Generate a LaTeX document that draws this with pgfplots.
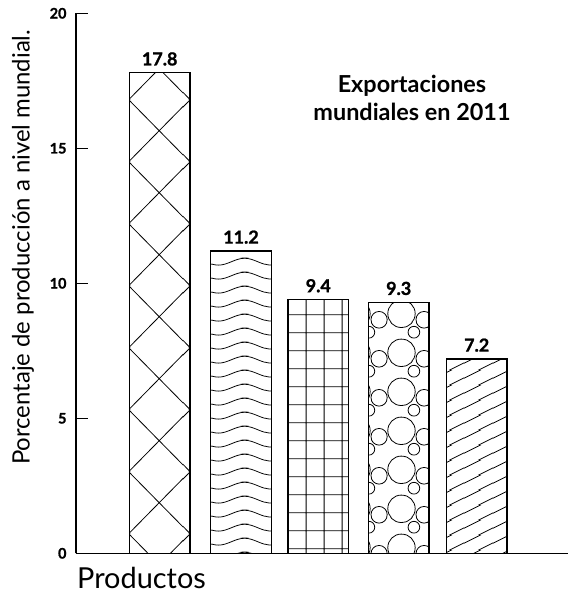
\documentclass[border=0pt]{standalone}
\usepackage{fontspec}
\setmainfont{Lato}
\newfontfamily\heavy{Lato}[BoldFeatures={FakeBold=1.2}]
\usepackage{pgfplots}
\pgfplotsset{compat=1.18}
\usetikzlibrary{patterns}

% diamonds (large crosshatch)
\pgfdeclarepatternformonly{diamonds}{\pgfpointorigin}{\pgfpoint{61bp}{61.7bp}}{\pgfpoint{61bp}{61.7bp}}{%
  \pgfsetlinewidth{0.8bp}%
  \foreach \s in {-61,0,61}{%
    \pgfpathmoveto{\pgfpoint{\s bp-23.5bp}{-31.3bp}}%
    \pgfpathlineto{\pgfpoint{\s bp+98.5bp}{92.1bp}}%
    \pgfpathmoveto{\pgfpoint{\s bp-23.5bp}{92.1bp}}%
    \pgfpathlineto{\pgfpoint{\s bp+98.5bp}{-31.3bp}}%
  }%
  \pgfusepath{stroke}%
}
% waves
\pgfdeclarepatternformonly{waves}{\pgfpointorigin}{\pgfpoint{53bp}{14.3bp}}{\pgfpoint{53bp}{14.3bp}}{%
  \pgfsetlinewidth{0.8bp}%
  \foreach \k in {-1,0,1,2}{%
    \pgfpathmoveto{\pgfpoint{-46.5bp}{\k*14.3bp-7.1bp}}%
    \pgfpathcurveto{\pgfpoint{-37bp}{\k*14.3bp-7.1bp}}{\pgfpoint{-29.5bp}{\k*14.3bp+0.1bp}}{\pgfpoint{-20bp}{\k*14.3bp+0.1bp}}%
    \pgfpathcurveto{\pgfpoint{-10.5bp}{\k*14.3bp+0.1bp}}{\pgfpoint{-3bp}{\k*14.3bp-7.1bp}}{\pgfpoint{6.5bp}{\k*14.3bp-7.1bp}}%
    \pgfpathcurveto{\pgfpoint{16bp}{\k*14.3bp-7.1bp}}{\pgfpoint{23.5bp}{\k*14.3bp+0.1bp}}{\pgfpoint{33bp}{\k*14.3bp+0.1bp}}%
    \pgfpathcurveto{\pgfpoint{42.5bp}{\k*14.3bp+0.1bp}}{\pgfpoint{50bp}{\k*14.3bp-7.1bp}}{\pgfpoint{59.5bp}{\k*14.3bp-7.1bp}}%
  }%
  \pgfusepath{stroke}%
}
% grid
\pgfdeclarepatternformonly{mygrid}{\pgfpointorigin}{\pgfpoint{17.8bp}{17.8bp}}{\pgfpoint{17.8bp}{17.8bp}}{%
  \pgfsetlinewidth{0.8bp}%
  \pgfpathmoveto{\pgfpoint{4.1bp}{-1bp}}\pgfpathlineto{\pgfpoint{4.1bp}{19bp}}%
  \pgfpathmoveto{\pgfpoint{-1bp}{10.3bp}}\pgfpathlineto{\pgfpoint{19bp}{10.3bp}}%
  \pgfusepath{stroke}%
}
% bubbles
\pgfdeclarepatternformonly{bubbles}{\pgfpointorigin}{\pgfpoint{45bp}{38.8bp}}{\pgfpoint{45bp}{38.8bp}}{%
  \pgfsetlinewidth{0.8bp}%
  \foreach \dx in {-45,0,45}{%
    \foreach \dy in {-38.8,0,38.8}{%
      \pgfpathcircle{\pgfpoint{\dx bp+41.7bp}{\dy bp+8.4bp}}{13.6bp}%
      \pgfpathcircle{\pgfpoint{\dx bp+19.3bp}{\dy bp+2.4bp}}{8.2bp}%
      \pgfpathcircle{\pgfpoint{\dx bp+9bp}{\dy bp+28.9bp}}{5.9bp}%
    }%
  }%
  \pgfusepath{stroke}%
}
% diagonal lines (crossing tile edges away from corners)
\pgfdeclarepatternformonly{diaglines}{\pgfpointorigin}{\pgfpoint{29bp}{14.5bp}}{\pgfpoint{29bp}{14.5bp}}{%
  \pgfsetlinewidth{0.8bp}%
  \foreach \k in {-2,-1,0,1}{%
    \pgfpathmoveto{\pgfpoint{-2bp}{\k*14.5bp+6bp}}%
    \pgfpathlineto{\pgfpoint{31bp}{\k*14.5bp+22.5bp}}%
  }%
  \pgfusepath{stroke}%
}

\begin{document}
\begin{tikzpicture}
\begin{axis}[
  x=1bp, y=27bp,
  xmin=76, xmax=570, ymin=0, ymax=20,
  axis x line=bottom, axis y line=left,
  axis line style={-, line width=1.3bp, black},
  xtick=\empty, ytick={0,5,10,15,20},
  tick align=inside, major tick length=12bp,
  ytick style={line width=1.3bp, black},
  yticklabel={\fontsize{14.5}{16}\selectfont\heavy\bfseries\pgfmathprintnumber{\tick}},
  yticklabel style={xshift=-6bp},
  /pgf/number format/assume math mode=true,
  clip=false,
  ybar, bar width=60.5bp, bar shift=0pt,
  nodes near coords,
  nodes near coords style={font=\fontsize{18}{20}\selectfont\heavy\bfseries, anchor=south, inner sep=0pt, yshift=6.5bp, text=black},
]
\addplot[draw=black, line width=1.3bp, pattern=diamonds] coordinates {(159.7,17.8)};
\addplot[draw=black, line width=1.3bp, pattern=waves] coordinates {(241,11.2)};
\addplot[draw=black, line width=1.3bp, pattern=mygrid] coordinates {(318.3,9.4)};
\addplot[draw=black, line width=1.3bp, pattern=bubbles] coordinates {(398.7,9.3)};
\addplot[draw=black, line width=1.3bp, pattern=diaglines] coordinates {(476.7,7.2)};

\draw[line width=1.3bp] (axis cs:76,0) -- (axis cs:572,0);
\node[rotate=90, font=\fontsize{24}{27}\selectfont] at (axis cs:23,11.33) {Porcentaje de producción a nivel mundial.};
\node[align=center, font=\fontsize{23.5}{28}\selectfont\bfseries] at (axis cs:412,16.85) {Exportaciones\\mundiales en 2011};
\node[anchor=base west, inner sep=0pt, font=\fontsize{29}{32}\selectfont] at (axis cs:77,-1.32) {Productos};
\end{axis}
\pgfresetboundingbox
\path[use as bounding box] (-76bp,-40.7bp) rectangle (492bp,553.3bp);
\end{tikzpicture}
\end{document}
